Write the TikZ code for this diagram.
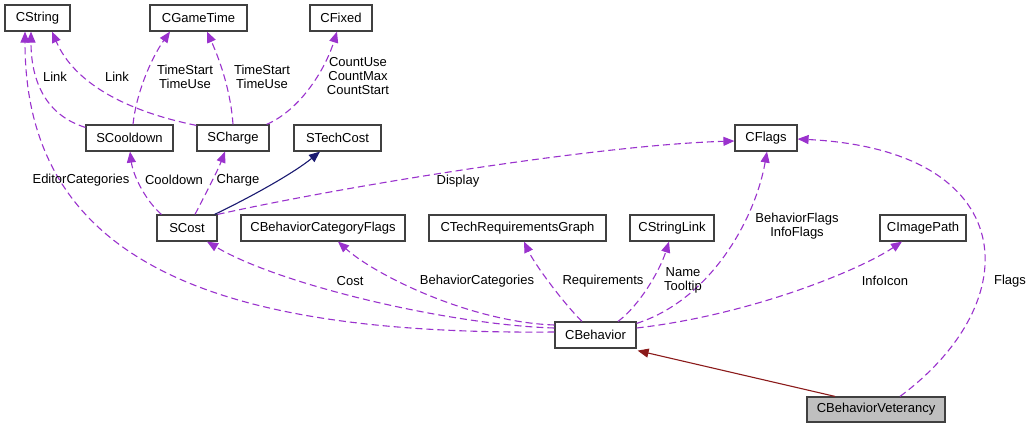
\documentclass[tikz,border=0pt]{standalone}
\usepackage{fontspec}
\setmainfont{Liberation Sans}
\usetikzlibrary{arrows.meta}
\definecolor{purp}{HTML}{9A32CD}
\definecolor{navyc}{HTML}{191970}
\definecolor{dred}{HTML}{8B1A1A}
\definecolor{border}{HTML}{404040}
\begin{document}
\begin{tikzpicture}[x=1pt,y=-1pt,
  font=\fontsize{13}{14}\selectfont,
  box/.style={draw=border, line width=1.2pt, fill=white, minimum height=26pt, inner sep=0pt},
  lbl/.style={align=center, inner sep=0pt},
  tip/.style={-{Triangle[length=11pt,width=9pt]}},
  rel/.style={tip, draw=purp, line width=1.1pt, dash pattern=on 7pt off 4pt},
  inh/.style={tip, draw=navyc, line width=1.1pt},
  own/.style={tip, draw=dred, line width=1.1pt}]
\useasboundingbox (0,0) rectangle (1033,428);
% nodes
\node[box, minimum width=65pt]  (cstring)    at (37.5,18)  {CString};
\node[box, minimum width=97pt]  (cgametime)  at (198.5,18) {CGameTime};
\node[box, minimum width=62pt]  (cfixed)     at (341,18)   {CFixed};
\node[box, minimum width=87pt]  (scooldown)  at (129.5,138) {SCooldown};
\node[box, minimum width=72pt]  (scharge)    at (233,138)  {SCharge};
\node[box, minimum width=87pt]  (stechcost)  at (337.5,138) {STechCost};
\node[box, minimum width=62pt]  (cflags)     at (766,138)  {CFlags};
\node[box, minimum width=60pt]  (scost)      at (187,228)  {SCost};
\node[box, minimum width=164pt] (cbcf)       at (323,228)  {CBehaviorCategoryFlags};
\node[box, minimum width=177pt] (ctrg)       at (517.5,228) {CTechRequirementsGraph};
\node[box, minimum width=84pt]  (cstringlink) at (672,228) {CStringLink};
\node[box, minimum width=86pt]  (cimagepath) at (923,228)  {CImagePath};
\node[box, minimum width=81pt]  (cbehavior)  at (595.5,335) {CBehavior};
\node[box, minimum width=138pt, minimum height=25pt, fill={rgb,255:red,191;green,191;blue,191}] (cbv) at (876,409.5) {CBehaviorVeterancy};
% connectors
\draw[rel] ([yshift=-3pt]scooldown.north west) .. controls (45,115) and (31,80) .. ([xshift=-6.5pt]cstring.south);
\draw[rel] ([yshift=-1pt]scharge.north west) .. controls (130,112) and (75,85) .. ([xshift=14.5pt]cstring.south);
\draw[rel] ([xshift=3.5pt]scooldown.north) .. controls (136,95) and (150,60) .. ([xshift=-28.5pt]cgametime.south);
\draw[rel] (scharge.north) .. controls (231,95) and (222,65) .. ([xshift=8.5pt]cgametime.south);
\draw[rel] ([xshift=-3pt]scharge.north east) .. controls (300,110) and (325,70) .. ([xshift=-4pt]cfixed.south);
\draw[rel] ([xshift=5pt]scost.north west) .. controls (145,200) and (133,175) .. ([xshift=0.5pt]scooldown.south);
\draw[rel] ([xshift=8pt]scost.north) .. controls (205,195) and (218,170) .. ([xshift=-8pt]scharge.south);
\draw[inh] ([xshift=-3pt]scost.north east) .. controls (255,195) and (295,172) .. ([xshift=-17.5pt]stechcost.south);
\draw[rel] (scost.north east) .. controls (350,185) and (600,145) .. ([yshift=-3pt]cflags.west);
\draw[rel] ([yshift=3pt]cbehavior.west) .. controls (230,335) and (25,270) .. ([xshift=-12.5pt]cstring.south);
\draw[rel] ([yshift=7pt]cbehavior.west) .. controls (450,325) and (280,285) .. ([xshift=20pt]scost.south);
\draw[rel] ([yshift=10pt]cbehavior.west) .. controls (470,322) and (375,275) .. ([xshift=15pt]cbcf.south);
\draw[rel] ([xshift=-13.5pt]cbehavior.north) .. controls (565,305) and (535,265) .. ([xshift=6.5pt]ctrg.south);
\draw[rel] ([xshift=22.5pt]cbehavior.north) .. controls (640,305) and (660,270) .. ([xshift=-3pt]cstringlink.south);
\draw[rel] ([yshift=-2pt]cbehavior.north east) .. controls (710,300) and (755,220) .. ([xshift=1pt]cflags.south);
\draw[rel] ([yshift=7pt]cbehavior.east) .. controls (750,315) and (860,270) .. ([xshift=-21pt]cimagepath.south);
\draw[own] ([xshift=-41pt]cbv.north) -- ([xshift=1pt,yshift=-2pt]cbehavior.south east);
\draw[rel] ([xshift=24pt]cbv.north) .. controls (1030,300) and (1020,150) .. ([yshift=-1pt]cflags.east);
% labels
\node[lbl] (l1)  at (55,77)   {Link};
\node[lbl] (l2)  at (117,77)  {Link};
\node[lbl] (l3)  at (185,77)  {TimeStart\\TimeUse};
\node[lbl] (l4)  at (262,77)  {TimeStart\\TimeUse};
\node[lbl] (l5)  at (358,76)  {CountUse\\CountMax\\CountStart};
\node[lbl] (l6)  at (81,180)  {EditorCategories};
\node[lbl] (l7)  at (174,180) {Cooldown};
\node[lbl] (l8)  at (238,180) {Charge};
\node[lbl] (l9)  at (458,181) {Display};
\node[lbl] (l10) at (350,281) {Cost};
\node[lbl] (l11) at (477,281) {BehaviorCategories};
\node[lbl] (l12) at (603,281) {Requirements};
\node[lbl] (l13) at (683,280) {Name\\Tooltip};
\node[lbl] (l14) at (797,226) {BehaviorFlags\\InfoFlags};
\node[lbl] (l15) at (885,281) {InfoIcon};
\node[lbl] (l16) at (1010,281) {Flags};
\end{tikzpicture}
\end{document}
